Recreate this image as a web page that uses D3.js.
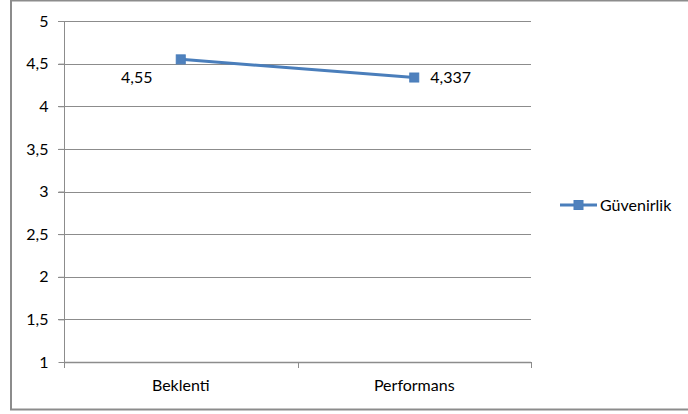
<!DOCTYPE html>
<html><head><meta charset="utf-8">
<script src="https://cdn.jsdelivr.net/npm/d3@7"></script>
<style>body{margin:0;background:#fff}svg{display:block}text{font-family:Lato,"Open Sans",sans-serif;fill:#000}</style>
</head><body>
<script>
const categories = ["Beklenti", "Performans"];
const values = [4.55, 4.337];
const valueLabels = ["4,55", "4,337"];
const seriesName = "Güvenirlik";
const yTicks = [1, 1.5, 2, 2.5, 3, 3.5, 4, 4.5, 5];

const W = 688, H = 414;
const FS = 16;
const svg = d3.select("body").append("svg").attr("width", W).attr("height", H);
svg.append("rect").attr("x", 11).attr("y", 0.5).attr("width", 690).attr("height", 409)
  .attr("fill", "none").attr("stroke", "#8c8c8c").attr("stroke-width", 2);

const L = 64, R = 531, T = 21, B = 362;
const x = d3.scaleBand().domain(categories).range([L, R]);
const y = d3.scaleLinear().domain([1, 5]).range([B, T]);
const fmt = d => String(d).replace(".", ",");

// gridlines
svg.append("g").selectAll("line").data(yTicks.filter(d => d > 1)).join("line")
  .attr("x1", L - 6).attr("x2", R).attr("y1", d => Math.round(y(d)) + 0.5).attr("y2", d => Math.round(y(d)) + 0.5)
  .attr("stroke", "#8c8c8c").attr("stroke-width", 1);

// y axis
const ya = svg.append("g").attr("transform", `translate(${L + 0.5},0)`)
  .call(d3.axisLeft(y).tickValues(yTicks).tickFormat(fmt).tickSize(6).tickPadding(10));
ya.select(".domain").attr("stroke", "#8c8c8c").attr("d", `M0,${T}V${B}`);
ya.selectAll(".tick line").attr("stroke", "#8c8c8c");
ya.selectAll("text").attr("font-size", FS).attr("font-family", "Lato,sans-serif");

// x axis
const xa = svg.append("g").attr("transform", `translate(0,${Math.round(B) + 0.5})`)
  .call(d3.axisBottom(x).tickSize(0).tickPadding(17));
xa.select(".domain").attr("stroke", "#8c8c8c").attr("stroke-width", 1.5).attr("d", `M${L},0H${R}`);
xa.selectAll("text").attr("font-size", FS).attr("font-family", "Lato,sans-serif");
svg.append("g").selectAll("line").data([x.range()[0], x(categories[1]), x.range()[1]]).join("line")
  .attr("x1", d => Math.round(d) + 0.5).attr("x2", d => Math.round(d) + 0.5)
  .attr("y1", B).attr("y2", B + 6).attr("stroke", "#8c8c8c");

// line
const color = "#4a7ebb";
const cx = d => x(d) + x.bandwidth() / 2;
svg.append("path").datum(categories.map((c, i) => [cx(c), y(values[i])]))
  .attr("d", d3.line()).attr("fill", "none").attr("stroke", color).attr("stroke-width", 3);
svg.append("g").selectAll("rect").data(values).join("rect")
  .attr("x", (d, i) => cx(categories[i]) - 4.5).attr("y", d => y(d) - 4.5)
  .attr("width", 9).attr("height", 9).attr("fill", "#4f81bd").attr("stroke", color);

// labels
svg.append("text").attr("x", cx(categories[0]) - 44).attr("y", y(values[0]) + 24)
  .attr("text-anchor", "middle").attr("font-size", FS).text(valueLabels[0]);
svg.append("text").attr("x", cx(categories[1]) + 16).attr("y", y(values[1]) + 5)
  .attr("text-anchor", "start").attr("font-size", FS).text(valueLabels[1]);

// legend
const ly = 205;
svg.append("line").attr("x1", 560).attr("x2", 597).attr("y1", ly).attr("y2", ly)
  .attr("stroke", color).attr("stroke-width", 3);
svg.append("rect").attr("x", 574).attr("y", ly - 4.5).attr("width", 9).attr("height", 9)
  .attr("fill", "#4f81bd").attr("stroke", color);
svg.append("text").attr("x", 600).attr("y", ly + 5.5).attr("font-size", FS).text(seriesName);
</script>
</body></html>
